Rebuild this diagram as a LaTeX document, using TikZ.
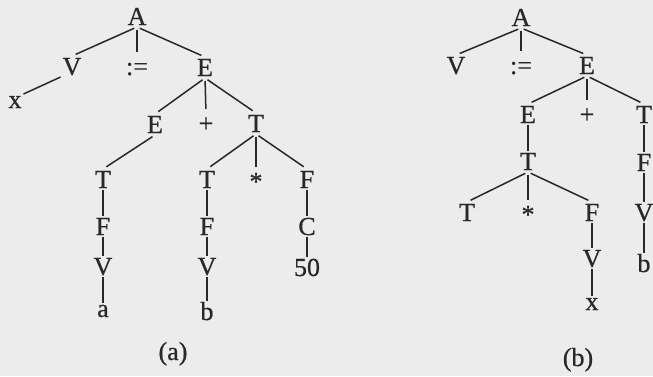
\documentclass[tikz,border=0pt]{standalone}
\usepackage{fontspec}
\setmainfont{Liberation Serif}[FakeBold=0.6]
\definecolor{ink}{RGB}{40,40,40}
\definecolor{paper}{RGB}{236,236,236}
\begin{document}
\begin{tikzpicture}[x=1pt,y=-1pt,
  sym/.style={anchor=base, inner sep=2pt, outer sep=0pt, text height=17pt, text depth=0pt, font=\fontsize{26}{26}\selectfont, text=ink},
  lc/.style={sym, text height=12pt},
  br/.style={draw=ink, line width=1.5pt, shorten <=3pt, shorten >=4pt},
  vl/.style={draw=ink, line width=1.5pt}]
\fill[paper] (0,0) rectangle (653,376);
\useasboundingbox (0,0) rectangle (653,376);
% ---------- tree (a) ----------
\node[sym] (aA) at (137,25) {A};
\node[sym] (aV) at (72,75) {V};
\node[sym] (aAs) at (137,75) {:=};
\node[sym] (aE) at (205,76) {E};
\node[lc]  (ax) at (15,108) {x};
\node[sym] (aE2) at (155,133) {E};
\node[sym] (aP) at (206,132) {+};
\node[sym] (aT) at (256,132) {T};
\node[sym] (aT1) at (103,188) {T};
\node[sym] (aT2) at (207,188) {T};
\node[sym] (aSt) at (256,190) {*};
\node[sym] (aF3) at (307,188) {F};
\node[sym] (aF1) at (103,235) {F};
\node[sym] (aF2) at (207,235) {F};
\node[sym] (aC) at (307,235) {C};
\node[sym] (aV1) at (103,275) {V};
\node[sym] (aV2) at (207,275) {V};
\node[sym] (a50) at (307,276) {50};
\node[lc]  (aa) at (103,317) {a};
\node[sym] (ab) at (207,320) {b};
\node[sym] (capa) at (173,360) {(a)};
\foreach \c in {aV,aAs,aE} \draw[br] (aA.south) -- (\c.north);
\draw[vl] (aV.south west) -- (ax.north east);
\foreach \c in {aE2,aP,aT} \draw[br] (aE.south) -- (\c.north);
\draw[br] (aE2.south) -- (aT1.north);
\foreach \c in {aT2,aSt,aF3} \draw[br] (aT.south) -- (\c.north);
\draw[vl] (aT1.south) -- (aF1.north);
\draw[vl] (aF1.south) -- (aV1.north);
\draw[vl] (aV1.south) -- (aa.north);
\draw[vl] (aT2.south) -- (aF2.north);
\draw[vl] (aF2.south) -- (aV2.north);
\draw[vl] (aV2.south) -- (ab.north);
\draw[vl] (aF3.south) -- (aC.north);
\draw[vl] (aC.south) -- (a50.north);
% ---------- tree (b) ----------
\node[sym] (bA) at (521,26) {A};
\node[sym] (bV) at (456,74) {V};
\node[sym] (bAs) at (521,74) {:=};
\node[sym] (bE) at (587,74) {E};
\node[sym] (bE2) at (528,123) {E};
\node[sym] (bP) at (587,123) {+};
\node[sym] (bT) at (644,123) {T};
\node[sym] (bT2) at (528,170) {T};
\node[sym] (bF) at (644,171) {F};
\node[sym] (bT3) at (467,221) {T};
\node[sym] (bSt) at (528,223) {*};
\node[sym] (bF3) at (592,221) {F};
\node[sym] (bVr) at (644,221) {V};
\node[sym] (bV3) at (592,267) {V};
\node[sym] (bb) at (644,272) {b};
\node[lc]  (bx) at (592,310) {x};
\node[sym] (capb) at (578,366) {(b)};
\foreach \c in {bV,bAs,bE} \draw[br] (bA.south) -- (\c.north);
\foreach \c in {bE2,bP,bT} \draw[br] (bE.south) -- (\c.north);
\draw[vl] (bE2.south) -- (bT2.north);
\foreach \c in {bT3,bSt,bF3} \draw[br] (bT2.south) -- (\c.north);
\draw[vl] (bF3.south) -- (bV3.north);
\draw[vl] (bV3.south) -- (bx.north);
\draw[vl] (bT.south) -- (bF.north);
\draw[vl] (bF.south) -- (bVr.north);
\draw[vl] (bVr.south) -- (bb.north);
\end{tikzpicture}
\end{document}
